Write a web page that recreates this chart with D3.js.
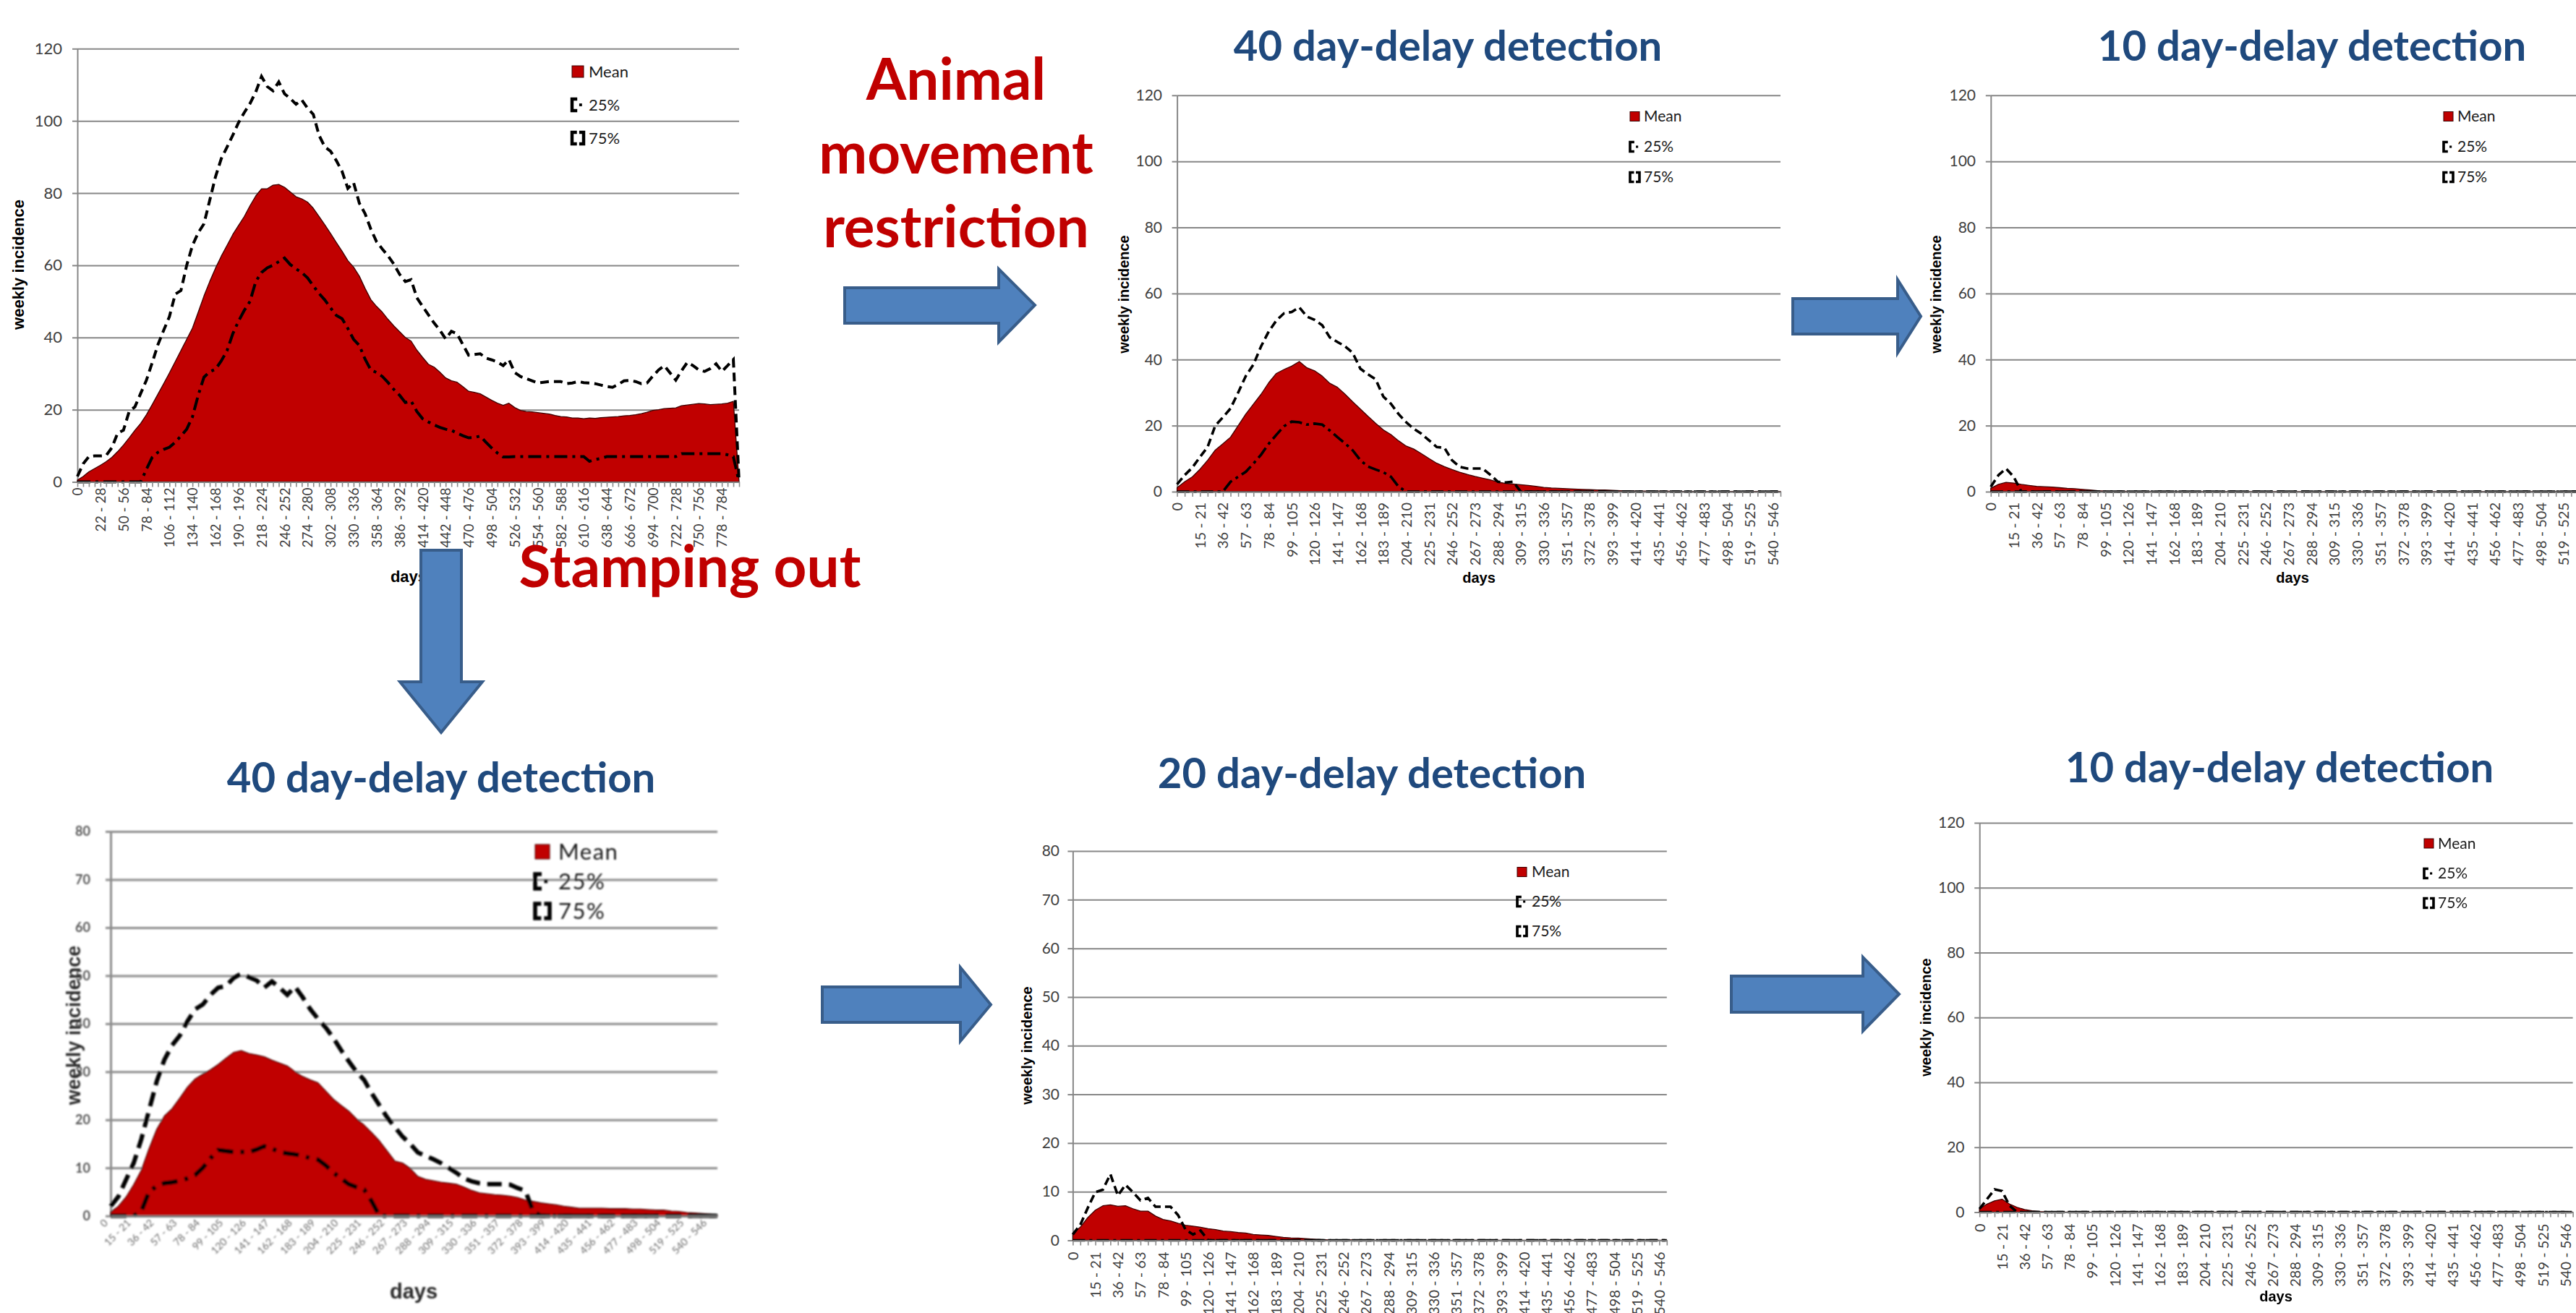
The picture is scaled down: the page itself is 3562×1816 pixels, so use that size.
<!DOCTYPE html>
<html>
<head>
<meta charset="utf-8">
<script src="https://cdn.jsdelivr.net/npm/d3@7"></script>
<style>
  html, body { margin: 0; padding: 0; background: #ffffff; }
  svg { display: block; }
</style>
</head>
<body>
<script>
// ---------------------------------------------------------------
// Weekly incidence under different control strategies
// ---------------------------------------------------------------

// Day bins (week ranges) used as categories
const dayBin = i => (i === 0 ? "0" : `${7 * i - 6} - ${7 * i}`);
const daysLong = d3.range(116).map(dayBin);
const daysShort = d3.range(80).map(dayBin);

// Tick labels shown on the category axes
const longTicks = ["0","22 - 28","50 - 56","78 - 84","106 - 112","134 - 140","162 - 168","190 - 196",
  "218 - 224","246 - 252","274 - 280","302 - 308","330 - 336","358 - 364","386 - 392","414 - 420",
  "442 - 448","470 - 476","498 - 504","526 - 532","554 - 560","582 - 588","610 - 616","638 - 644",
  "666 - 672","694 - 700","722 - 728","750 - 756","778 - 784"];
const shortTicks = ["0","15 - 21","36 - 42","57 - 63","78 - 84","99 - 105","120 - 126","141 - 147",
  "162 - 168","183 - 189","204 - 210","225 - 231","246 - 252","267 - 273","288 - 294","309 - 315",
  "330 - 336","351 - 357","372 - 378","393 - 399","414 - 420","435 - 441","456 - 462","477 - 483",
  "498 - 504","519 - 525","540 - 546"];
const yTicks120 = [0, 20, 40, 60, 80, 100, 120];
const yTicks80 = [0, 10, 20, 30, 40, 50, 60, 70, 80];

// Baseline (no extra control)
const baseMean = [0.5,1.5,2.8,3.7,4.6,5.6,6.8,8.4,10.2,12.2,
  14.3,16.2,18.6,21.4,24.3,27.2,30.2,33.3,36.4,39.5,
  42.6,47,51.5,55.5,59.2,62.5,65.5,68.5,71,73.5,
  76.5,79.2,81.2,81.2,82.2,82.4,81.6,80.3,79,78.4,
  77.5,75.8,73.5,71.2,68.8,66.3,63.9,61.3,59.5,57,
  53.6,50.5,48.6,47,45,43.2,41.6,40,39,36.5,
  34.5,32.6,31.8,30.4,28.8,28,27.6,26.4,25.1,24.8,
  24.4,23.5,22.6,21.8,21.2,21.8,20.6,19.8,19.5,19.4,
  19.2,19,18.8,18.4,18.1,18,17.7,17.7,17.5,17.7,
  17.6,17.8,17.9,18,18.1,18.3,18.4,18.6,18.9,19.3,
  19.8,20,20.3,20.4,20.5,21.1,21.3,21.5,21.7,21.6,
  21.4,21.5,21.6,21.8,22.3,0];
const baseP75 = [1.5,5,7,7.2,7.2,7.3,9.5,13.5,14.3,19.5,
  20.8,24.5,28.2,33,38,42,45.8,52,53,60,
  65.5,69,71.5,78,84.5,89.5,92.7,96,99.5,102.3,
  104.8,108,112.3,109.5,108.3,110.8,107.5,106.2,104.6,105.8,
  103.5,101.8,96,92.8,91.6,89,86,81.3,82.9,77.2,
  74.3,70,66.5,64.5,62.6,60.3,57.5,55.5,56,51,
  48.6,46.3,44,42,39.6,41.7,41,38,35.1,35.3,
  35.5,34.3,33.8,33.2,32.2,33.9,30.3,29.2,28.6,28,
  27.4,27.6,27.8,27.8,27.8,27.2,27.4,27.8,27.5,27.4,
  27.2,26.8,26.4,26.2,27,28,28.1,27.8,27.2,27.4,
  29.3,31,32.2,30.2,28.2,30.8,33.1,32.2,31,30.6,
  31.4,32.7,30.6,32.2,33.9,0];
const baseP25 = [0,0,0,0,0,0,0,0,0,0,
  0,0,3.5,6.8,8.2,9,9.6,11,12.7,14.6,
  18,24,29,30.5,31.2,33.5,36.3,41,44.5,47.5,
  50,55.5,58,59.3,60,61,62,60.2,59,58,
  56.5,54.3,52.2,50.4,48.2,46.1,45.2,42.5,39.5,37.8,
  34,31,30.3,29.2,27.5,25.6,24,22,22.4,19.5,
  17.5,16.6,15.8,15.1,14.6,14.3,13.5,12.8,12.2,12.3,
  12.7,11,9.4,8,6.9,6.9,7,7,7,7,
  7,7,7,7,7,7,7,7,7,5.7,
  6.2,6.5,7,7,7,7,7,7,7,7,
  7,7,7,7,7,7.8,7.8,7.8,7.8,7.8,
  7.8,7.8,7.8,7.5,7,0];

// Animal movement restriction, 40 day-delay detection
const amr40Mean = [1.2,3,4.5,6.8,9.5,12.6,14.5,16.5,20,23.5,
  26.5,29.5,33,35.8,37,38,39.4,37.5,36.6,35,
  32.8,31.6,29.5,27.2,25,22.8,20.7,18.7,17.3,15.4,
  13.8,12.9,11.5,10,8.6,7.6,6.7,5.9,5.2,4.6,
  4.1,3.6,2.9,2.5,2.3,2.1,1.9,1.6,1.3,1.1,
  1,0.9,0.8,0.7,0.6,0.5,0.5,0.4,0.3,0.3,
  0.2,0.2,0.2,0.2,0.2,0.1,0.1,0.1,0.1,0.1,
  0.1,0.1,0.1,0.1,0.1,0.1,0.1,0.1,0.1,0.1];
const amr40P75 = [2.2,5,7.3,10.5,13.5,20,22.5,25.2,30,35,
  38.5,44,48.5,51.8,54,54.4,55.8,53,52,50.4,
  46.7,45.3,44,42,37.2,35.5,34,28.8,26.6,23.5,
  21,19,17.5,15.5,13.5,13.3,9.5,7.5,7,7,
  7,5.1,3,2.8,3,0,0,0,0,0,
  0,0,0,0,0,0,0,0,0,0,
  0,0,0,0,0,0,0,0,0,0,
  0,0,0,0,0,0,0,0,0,0];
const amr40P25 = [0,0,0,0,0,0,0,3,4.5,6,
  8.5,11.2,14.5,17.2,19.8,21.2,21,20.3,20.6,20.3,
  18.5,16.5,14.6,12.5,9.5,7.6,6.7,5.9,4.5,1.5,
  0,0,0,0,0,0,0,0,0,0,
  0,0,0,0,0,0,0,0,0,0,
  0,0,0,0,0,0,0,0,0,0,
  0,0,0,0,0,0,0,0,0,0,
  0,0,0,0,0,0,0,0,0,0];

// Animal movement restriction, 10 day-delay detection
const amr10Mean = [1,2.2,2.8,2.6,2.2,1.9,1.6,1.5,1.4,1.2,
  1,0.9,0.7,0.5,0.3,0.2,0.1,0.2,0.1,0.1,
  0,0,0,0,0,0,0,0,0,0,
  0,0,0,0,0,0,0,0,0,0,
  0,0,0,0,0,0,0,0,0,0,
  0,0,0,0,0,0,0,0,0,0,
  0,0,0,0,0,0,0,0,0,0,
  0,0,0,0,0,0,0,0,0,0];
const amr10P75 = [1.5,5,7,4.5,0,0,0,0,0,0,
  0,0,0,0,0,0,0,0,0,0,
  0,0,0,0,0,0,0,0,0,0,
  0,0,0,0,0,0,0,0,0,0,
  0,0,0,0,0,0,0,0,0,0,
  0,0,0,0,0,0,0,0,0,0,
  0,0,0,0,0,0,0,0,0,0,
  0,0,0,0,0,0,0,0,0,0];
const amr10P25 = [0,0,0,0,0,0,0,0,0,0,
  0,0,0,0,0,0,0,0,0,0,
  0,0,0,0,0,0,0,0,0,0,
  0,0,0,0,0,0,0,0,0,0,
  0,0,0,0,0,0,0,0,0,0,
  0,0,0,0,0,0,0,0,0,0,
  0,0,0,0,0,0,0,0,0,0,
  0,0,0,0,0,0,0,0,0,0];

// Stamping out, 40 day-delay detection
const so40Mean = [0.8,2,3.9,6.5,9.5,14,18,20.8,22.3,24.5,
  26.8,28.5,29.5,30.4,31.5,32.8,34,34.4,33.8,33.5,
  33.1,32.4,31.8,31.2,30,29,28.3,27.7,26,24.3,
  23,21.8,20.2,18.9,17.3,15.6,13.5,11.4,11,9.9,
  8.2,7.6,7.3,7,6.8,6.6,6,5.3,4.8,4.6,
  4.4,4.3,4.1,3.8,3.3,3,2.7,2.5,2.3,2,
  1.8,1.6,1.6,1.6,1.6,1.5,1.5,1.5,1.4,1.4,
  1.3,1.2,1.2,1,0.9,0.7,0.6,0.5,0.4,0.2];
const so40P75 = [2,4,7.5,11,16,22,28,32.5,35.5,37.5,
  40.5,43,44,46,47.5,47.8,49.5,50.4,49.7,49,
  47.5,48.8,47.5,46,47.7,45.5,43,41,39.2,37,
  34.5,32.2,30,28.3,25.5,23,20.5,18.5,16.5,15,
  13.2,12.5,11.8,11,10,9,7.8,7.2,6.8,6.6,
  6.6,6.6,6.5,5.8,5.2,1,0,0,0,0,
  0,0,0,0,0,0,0,0,0,0,
  0,0,0,0,0,0,0,0,0,0];
const so40P25 = [0,0,0,0,1,5,6.2,6.8,7,7.3,
  7.8,8.5,10,12,13.7,13.5,13.3,13.3,13.3,13.8,
  14.5,14,13.3,13,12.8,12.5,12,11.7,10.5,9,
  7.8,6.6,6,5.5,3,0,0,0,0,0,
  0,0,0,0,0,0,0,0,0,0,
  0,0,0,0,0,0,0,0,0,0,
  0,0,0,0,0,0,0,0,0,0,
  0,0,0,0,0,0,0,0,0,0];

// Stamping out, 20 day-delay detection
const so20Mean = [1.5,2.7,4.7,6.2,7.1,7.3,7,7.1,6.5,6,
  6,5,4.3,4,3.5,3.1,2.9,2.7,2.4,2.2,
  1.9,1.8,1.6,1.5,1.2,1.1,1,0.8,0.6,0.5,
  0.45,0.35,0.25,0.15,0.1,0.1,0.1,0.1,0.1,0.1,
  0,0,0,0,0,0,0,0,0,0,
  0,0,0,0,0,0,0,0,0,0,
  0,0,0,0,0,0,0,0,0,0,
  0,0,0,0,0,0,0,0,0,0];
const so20P75 = [1.2,3.2,6.7,9.9,10.4,13.6,9.2,11.4,9.9,8.2,
  8.7,6.9,6.9,6.9,5.2,2.2,1.2,2,0,0,
  0,0,0,0,0,0,0,0,0,0,
  0,0,0,0,0,0,0,0,0,0,
  0,0,0,0,0,0,0,0,0,0,
  0,0,0,0,0,0,0,0,0,0,
  0,0,0,0,0,0,0,0,0,0,
  0,0,0,0,0,0,0,0,0,0];
const so20P25 = amr10P25;

// Stamping out, 10 day-delay detection
const so10Mean = [1,2.5,3.5,4,2.5,1.5,0.8,0.4,0.2,0.1,
  0,0,0,0,0,0,0,0,0,0,
  0,0,0,0,0,0,0,0,0,0,
  0,0,0,0,0,0,0,0,0,0,
  0,0,0,0,0,0,0,0,0,0,
  0,0,0,0,0,0,0,0,0,0,
  0,0,0,0,0,0,0,0,0,0,
  0,0,0,0,0,0,0,0,0,0];
const so10P75 = [1,4,7,6.5,2,0,0,0,0,0,
  0,0,0,0,0,0,0,0,0,0,
  0,0,0,0,0,0,0,0,0,0,
  0,0,0,0,0,0,0,0,0,0,
  0,0,0,0,0,0,0,0,0,0,
  0,0,0,0,0,0,0,0,0,0,
  0,0,0,0,0,0,0,0,0,0,
  0,0,0,0,0,0,0,0,0,0];
const so10P25 = amr10P25;

// ---------------------------------------------------------------
const W = 3562, H = 1816;
const FONT = "Lato, 'Open Sans', 'Liberation Sans', sans-serif";
const AXFONT = "'Liberation Sans', Arial, sans-serif";
const RED = "#C00000", NAVY = "#1F497D";

const svg = d3.select("body").append("svg")
  .attr("width", W).attr("height", H)
  .attr("viewBox", `0 0 ${W} ${H}`);

const defs = svg.append("defs");
defs.append("filter").attr("id", "soft")
  .append("feGaussianBlur").attr("stdDeviation", 0.9);

// Standard Excel-like panel styling
const stdStyle = {
  grid: "#878787", gridW: 2, tickLen: 7,
  yFont: 21, xFont: 20, yFill: "#404040", xFill: "#404040",
  lineW: 3.6, dash75: "11,6", dash25: "17,6,4,6",
  titleFont: 20, lgFont: 21, sw: 13, rot: -90
};

const panels = [
  Object.assign({}, stdStyle, {
    cats: daysLong, ticks: longTicks, yTicks: yTicks120, yMax: 120,
    mean: baseMean, p25: baseP25, p75: baseP75,
    left: 107, right: 1022, top: 67.3, bottom: 666.5, yPad: 14, xOff: 8,
    xFont: 19, yFont: 22, lineW: 4, dash75: "12,7", dash25: "18,7,4,7",
    ylab: [25, 366], xlab: [565, 805], titleFont: 22,
    lgX: 791, lgY: [99, 145, 191], lgTextX: 814, lgFont: 22, sw: 16
  }),
  Object.assign({}, stdStyle, {
    cats: daysShort, ticks: shortTicks, yTicks: yTicks120, yMax: 120,
    mean: amr40Mean, p25: amr40P25, p75: amr40P75,
    left: 1627.6, right: 2462, top: 131.8, bottom: 680, yPad: 13.6, xOff: 15,
    ylab: [1554, 407], xlab: [2045, 806],
    lgX: 2254, lgY: [161, 203, 245], lgTextX: 2273,
    title: "40 day-delay detection", titleX: 2002, titleY: 84
  }),
  Object.assign({}, stdStyle, {
    cats: daysShort, ticks: shortTicks, yTicks: yTicks120, yMax: 120,
    mean: amr10Mean, p25: amr10P25, p75: amr10P75,
    left: 2752.8, right: 3587, top: 131.8, bottom: 680, yPad: 13.8, xOff: 15,
    ylab: [2677, 407], xlab: [3170, 806],
    lgX: 3379, lgY: [161, 203, 245], lgTextX: 3398,
    title: "10 day-delay detection", titleX: 3197, titleY: 84
  }),
  Object.assign({}, stdStyle, {
    cats: daysShort, ticks: shortTicks, yTicks: yTicks80, yMax: 80,
    mean: so40Mean, p25: so40P25, p75: so40P75,
    left: 153, right: 992, top: 1150, bottom: 1681.7, yPad: 21, xOff: 10,
    grid: "#8c8c8c", gridW: 3, tickLen: 0,
    yFont: 18, xFont: 14, yFill: "#555555", xFill: "#6a6a6a", rot: -45,
    lineW: 6, dash75: "20,10", dash25: "22,10,5,10",
    ylab: [102, 1418], xlab: [572, 1796], titleFont: 27, xTitleFont: 29,
    axisTitleFill: "#2a2a2a",
    lgX: 740, lgY: [1178, 1219, 1260], lgTextX: 772, lgFont: 31, sw: 20, lgSpacing: 1.5,
    blur: true,
    title: "40 day-delay detection", titleX: 610, titleY: 1096
  }),
  Object.assign({}, stdStyle, {
    cats: daysShort, ticks: shortTicks, yTicks: yTicks80, yMax: 80,
    mean: so20Mean, p25: so20P25, p75: so20P75,
    left: 1483.4, right: 2304.8, top: 1177, bottom: 1715.5, yPad: 11.4, xOff: 16,
    ylab: [1419.5, 1446], xlab: null,
    lgX: 2098, lgY: [1206, 1247, 1288], lgTextX: 2118,
    title: "20 day-delay detection", titleX: 1897, titleY: 1090
  }),
  Object.assign({}, stdStyle, {
    cats: daysShort, ticks: shortTicks, yTicks: yTicks120, yMax: 120,
    mean: so10Mean, p25: so10P25, p75: so10P75,
    left: 2737.2, right: 3557.6, top: 1138, bottom: 1676.5, yPad: 13.7, xOff: 16,
    ylab: [2663, 1407], xlab: [3147, 1800],
    lgX: 3352, lgY: [1166.5, 1208, 1249], lgTextX: 3371,
    title: "10 day-delay detection", titleX: 3152, titleY: 1082
  })
];

function drawPanel(p) {
  const g = svg.append("g");
  if (p.blur) g.attr("filter", "url(#soft)");

  const x = d3.scalePoint().domain(p.cats).range([p.left, p.right]);
  const y = d3.scaleLinear().domain([0, p.yMax]).range([p.bottom, p.top]);

  // horizontal gridlines
  g.append("g")
    .attr("transform", `translate(${p.left},0)`)
    .call(d3.axisLeft(y).tickValues(p.yTicks).tickSize(-(p.right - p.left)).tickFormat("").tickSizeOuter(0))
    .call(a => a.select(".domain").remove())
    .call(a => a.selectAll("line").attr("stroke", p.grid).attr("stroke-width", p.gridW));

  // value axis with labels
  g.append("g")
    .attr("transform", `translate(${p.left},0)`)
    .call(d3.axisLeft(y).tickValues(p.yTicks).tickSize(7).tickSizeOuter(0).tickPadding(p.yPad))
    .call(a => a.select(".domain").attr("stroke", p.grid).attr("stroke-width", p.gridW))
    .call(a => a.selectAll("line").attr("stroke", p.grid).attr("stroke-width", p.gridW))
    .call(a => a.selectAll("text")
      .attr("font-family", FONT).attr("font-size", p.yFont).attr("fill", p.yFill)
      .attr("font-weight", p.blur ? 700 : 400));

  // mean as a filled area
  const area = d3.area()
    .x((d, i) => x(p.cats[i]))
    .y0(y(0))
    .y1(d => y(d));
  g.append("path").datum(p.mean)
    .attr("d", area)
    .attr("fill", RED)
    .attr("stroke", "#3d0000")
    .attr("stroke-width", 1.3)
    .attr("stroke-linejoin", "round");

  // quartile lines
  const line = d3.line().x((d, i) => x(p.cats[i])).y(d => y(d));
  g.append("path").datum(p.p25)
    .attr("d", line).attr("fill", "none")
    .attr("stroke", "#000").attr("stroke-width", p.lineW)
    .attr("stroke-dasharray", p.dash25);
  g.append("path").datum(p.p75)
    .attr("d", line).attr("fill", "none")
    .attr("stroke", "#000").attr("stroke-width", p.lineW)
    .attr("stroke-dasharray", p.dash75);

  // category axis: tick marks at every bin
  g.append("g")
    .attr("transform", `translate(0,${p.bottom})`)
    .call(d3.axisBottom(x).tickValues(p.cats).tickSize(p.tickLen).tickSizeOuter(0).tickFormat(""))
    .call(a => a.select(".domain").attr("stroke", "#7a7a7a").attr("stroke-width", p.gridW))
    .call(a => a.selectAll("line").attr("stroke", "#8a8a8a").attr("stroke-width", 1.6));

  // category labels
  g.append("g")
    .attr("transform", `translate(0,${p.bottom})`)
    .call(d3.axisBottom(x).tickValues(p.ticks).tickSize(0).tickPadding(0))
    .call(a => a.select(".domain").remove())
    .call(a => a.selectAll("text")
      .attr("font-family", FONT).attr("font-size", p.xFont).attr("fill", p.xFill)
      .attr("text-anchor", "end")
      .attr("transform", `rotate(${p.rot})`)
      .attr("x", -p.xOff).attr("y", 0).attr("dy", "0.35em"));

  // axis titles
  const atFill = p.axisTitleFill || "#000";
  g.append("text")
    .attr("transform", `translate(${p.ylab[0]},${p.ylab[1]}) rotate(-90)`)
    .attr("text-anchor", "middle").attr("dominant-baseline", "central")
    .attr("font-family", AXFONT).attr("font-weight", 700)
    .attr("font-size", p.titleFont).attr("fill", atFill)
    .text("weekly incidence");
  if (p.xlab) {
    g.append("text")
      .attr("x", p.xlab[0]).attr("y", p.xlab[1])
      .attr("text-anchor", "middle")
      .attr("font-family", AXFONT).attr("font-weight", 700)
      .attr("font-size", p.xTitleFont || p.titleFont).attr("fill", atFill)
      .text("days");
  }

  // legend
  const lg = g.append("g").attr("font-family", FONT).attr("font-size", p.lgFont).attr("fill", "#1a1a1a");
  const s = p.sw;
  lg.append("rect")
    .attr("x", p.lgX).attr("y", p.lgY[0] - s / 2)
    .attr("width", s).attr("height", s)
    .attr("fill", RED).attr("stroke", "#3d0000").attr("stroke-width", 1);
  // 25% key: bracket plus a dot
  lg.append("path")
    .attr("d", `M${p.lgX + s * 0.45},${p.lgY[1] - s / 2} H${p.lgX} V${p.lgY[1] + s / 2} H${p.lgX + s * 0.45}`)
    .attr("fill", "none").attr("stroke", "#000").attr("stroke-width", s * 0.28);
  lg.append("rect")
    .attr("x", p.lgX + s * 0.62).attr("y", p.lgY[1] - s * 0.12)
    .attr("width", s * 0.24).attr("height", s * 0.24).attr("fill", "#000");
  // 75% key: two facing brackets
  lg.append("path")
    .attr("d", `M${p.lgX + s * 0.42},${p.lgY[2] - s / 2} H${p.lgX} V${p.lgY[2] + s / 2} H${p.lgX + s * 0.42}` +
               `M${p.lgX + s * 0.62},${p.lgY[2] - s / 2} H${p.lgX + s} V${p.lgY[2] + s / 2} H${p.lgX + s * 0.62}`)
    .attr("fill", "none").attr("stroke", "#000").attr("stroke-width", s * 0.28);
  ["Mean", "25%", "75%"].forEach((t, k) => {
    lg.append("text")
      .attr("x", p.lgTextX).attr("y", p.lgY[k])
      .attr("dy", "0.35em")
      .attr("letter-spacing", p.lgSpacing || 0)
      .text(t);
  });

  // panel heading
  if (p.title) {
    svg.append("text")
      .attr("x", p.titleX).attr("y", p.titleY)
      .attr("text-anchor", "middle")
      .attr("font-family", FONT).attr("font-weight", 700)
      .attr("font-size", 58).attr("fill", NAVY)
      .text(p.title);
  }
}

panels.forEach(drawPanel);

// Strategy labels
const strat = svg.append("g")
  .attr("font-family", FONT).attr("font-weight", 700)
  .attr("font-size", 80).attr("fill", RED).attr("text-anchor", "middle");
[["Animal", 138], ["movement", 240], ["restriction", 342]].forEach(([t, yy]) => {
  strat.append("text").attr("x", 1322).attr("y", yy).text(t);
});
strat.append("text").attr("x", 954).attr("y", 812).text("Stamping out");

// Block arrows linking the panels
const arrows = [
  [[1168,398],[1381,398],[1381,372],[1431,422],[1381,473],[1381,447],[1168,447]],
  [[2479,413],[2624,413],[2624,387],[2656,437.5],[2624,488],[2624,462],[2479,462]],
  [[582,761],[638,761],[638,943],[667,943],[610,1013],[553,943],[582,943]],
  [[1137,1365],[1328,1365],[1328,1338],[1370,1389.5],[1328,1440],[1328,1414],[1137,1414]],
  [[2394,1350],[2576,1350],[2576,1324],[2626,1375],[2576,1426],[2576,1400],[2394,1400]]
];
svg.append("g").selectAll("path").data(arrows).join("path")
  .attr("d", d => d3.line()(d) + "Z")
  .attr("fill", "#4F81BD")
  .attr("stroke", "#385D8A")
  .attr("stroke-width", 4)
  .attr("stroke-linejoin", "miter");
</script>
</body>
</html>
